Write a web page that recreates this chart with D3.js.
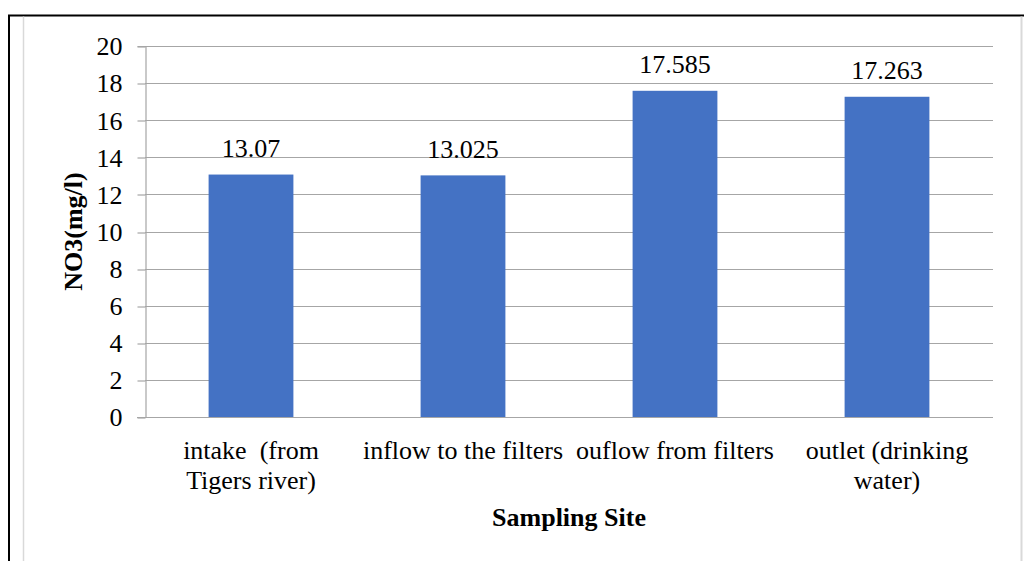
<!DOCTYPE html>
<html>
<head>
<meta charset="utf-8">
<script src="https://cdn.jsdelivr.net/npm/d3@7"></script>
<style>
  html, body { margin: 0; padding: 0; background: #ffffff; }
  svg { display: block; }
</style>
</head>
<body>
<svg id="chart" width="1024" height="561"></svg>
<script>
// NO3 concentration at each sampling site
const categories = [
  ["intake  (from", "Tigers river)"],
  ["inflow to the filters"],
  ["ouflow from filters"],
  ["outlet (drinking", "water)"]
];
const values = [13.07, 13.025, 17.585, 17.263];
const valueLabels = ["13.07", "13.025", "17.585", "17.263"];
const yTicks = [0, 2, 4, 6, 8, 10, 12, 14, 16, 18, 20];
const yTitle = "NO3(mg/l)";
const xTitle = "Sampling Site";

const svg = d3.select("#chart");
const W = 1024, H = 561;
const plot = { left: 145, right: 993, top: 46, bottom: 417 };
const serif = "'Liberation Serif', 'Times New Roman', serif";

// frame around the chart
svg.append("line").attr("x1", 8).attr("x2", 1024).attr("y1", 15.5).attr("y2", 15.5)
  .attr("stroke", "#000").attr("stroke-width", 2);
svg.append("line").attr("x1", 9).attr("x2", 9).attr("y1", 15).attr("y2", H)
  .attr("stroke", "#000").attr("stroke-width", 2);
svg.append("line").attr("x1", 23.5).attr("x2", 23.5).attr("y1", 16.5).attr("y2", H)
  .attr("stroke", "#d9d9d9").attr("stroke-width", 1.5);
svg.append("line").attr("x1", 1021.5).attr("x2", 1021.5).attr("y1", 16.5).attr("y2", H)
  .attr("stroke", "#d9d9d9").attr("stroke-width", 2);

const x = d3.scaleBand()
  .domain(d3.range(categories.length))
  .range([plot.left, plot.right])
  .paddingInner(0.6)
  .paddingOuter(0.3);

const y = d3.scaleLinear().domain([0, 20]).range([plot.bottom, plot.top]);

// horizontal gridlines
svg.append("g").selectAll("line").data(yTicks.filter(t => t > 0)).join("line")
  .attr("x1", plot.left).attr("x2", plot.right)
  .attr("y1", d => Math.round(y(d)) + 0.5).attr("y2", d => Math.round(y(d)) + 0.5)
  .attr("stroke", "#a6a6a6").attr("stroke-width", 1.2);

// y axis
const yAxis = svg.append("g")
  .attr("transform", `translate(${plot.left + 0.5},0)`)
  .call(d3.axisLeft(y).tickValues(yTicks).tickSize(8).tickPadding(15).tickFormat(d3.format("d")));
yAxis.attr("font-family", serif).attr("font-size", 26);
yAxis.select(".domain").attr("stroke", "#a6a6a6").attr("stroke-width", 1.2);
yAxis.selectAll(".tick line").attr("stroke", "#a6a6a6").attr("stroke-width", 1.2)
  .attr("transform", function(d) { return `translate(0,${Math.round(y(d)) + 0.5 - y(d)})`; });
yAxis.selectAll(".tick text")
  .attr("font-family", serif)
  .attr("font-size", 26).attr("fill", "#000").attr("dy", "0.34em");

// x axis baseline
svg.append("line")
  .attr("x1", plot.left - 8).attr("x2", plot.right)
  .attr("y1", Math.round(y(0)) + 0.5).attr("y2", Math.round(y(0)) + 0.5)
  .attr("stroke", "#a6a6a6").attr("stroke-width", 1.2);

// bars
svg.append("g").selectAll("rect").data(values).join("rect")
  .attr("x", (d, i) => x(i))
  .attr("width", x.bandwidth())
  .attr("y", d => y(d))
  .attr("height", d => y(0) - y(d))
  .attr("fill", "#4472c4");

// value labels
svg.append("g").selectAll("text").data(values).join("text")
  .attr("x", (d, i) => x(i) + x.bandwidth() / 2)
  .attr("y", d => y(d) - 17.5)
  .attr("text-anchor", "middle")
  .attr("font-family", serif)
  .attr("font-size", 26).attr("fill", "#000")
  .text((d, i) => valueLabels[i]);

// category labels
const catG = svg.append("g").selectAll("text").data(categories).join("text")
  .attr("x", (d, i) => x(i) + x.bandwidth() / 2)
  .attr("y", 459)
  .attr("text-anchor", "middle")
  .attr("font-family", serif)
  .attr("font-size", 26).attr("fill", "#000");
catG.selectAll("tspan").data(d => d).join("tspan")
  .attr("x", function() { return d3.select(this.parentNode).attr("x"); })
  .attr("dy", (d, j) => j === 0 ? 0 : 29.5)
  .style("white-space", "pre")
  .text(d => d);

// axis titles
svg.append("text")
  .attr("transform", `translate(82,${(plot.top + plot.bottom) / 2}) rotate(-90)`)
  .attr("text-anchor", "middle")
  .attr("font-family", serif)
  .attr("font-size", 26).attr("font-weight", "bold").attr("fill", "#000")
  .text(yTitle);

svg.append("text")
  .attr("x", (plot.left + plot.right) / 2)
  .attr("y", 526)
  .attr("text-anchor", "middle")
  .attr("font-family", serif)
  .attr("font-size", 26).attr("font-weight", "bold").attr("fill", "#000")
  .text(xTitle);
</script>
</body>
</html>
